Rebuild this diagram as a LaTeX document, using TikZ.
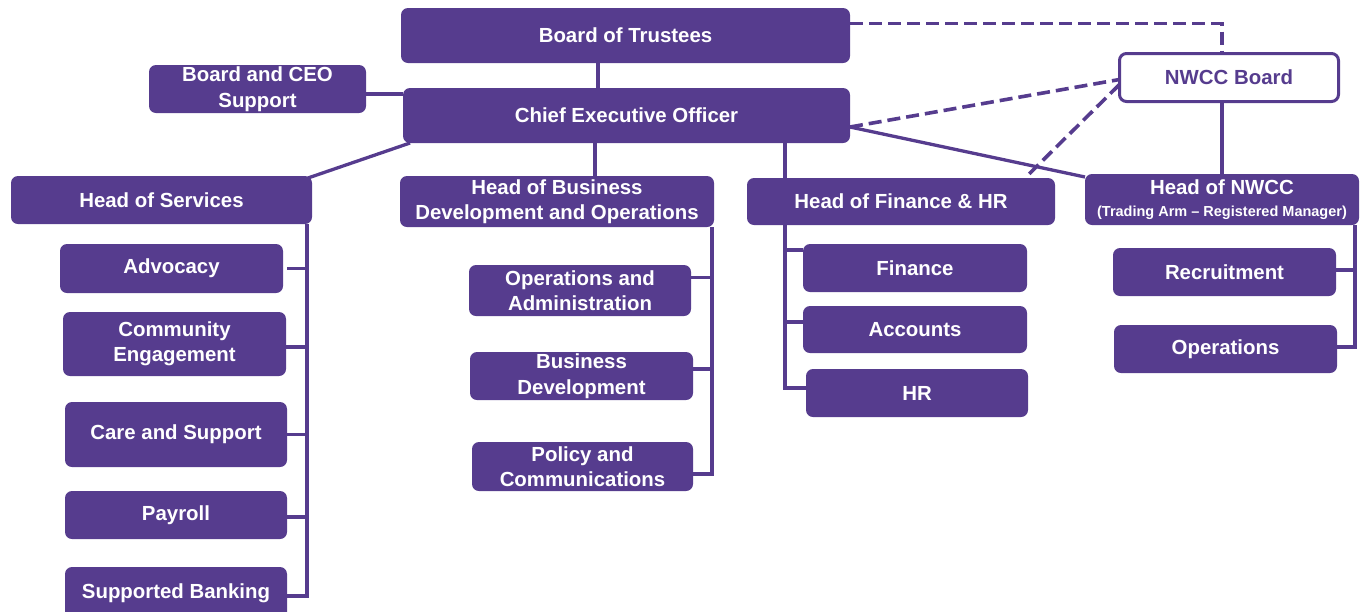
\documentclass[tikz,border=0pt]{standalone}
\usepackage{fontspec}
\setmainfont{Liberation Sans}
\pgfdeclarelayer{bg}
\pgfsetlayers{bg,main}
\definecolor{purp}{HTML}{563C8E}
\tikzset{
  box/.style={fill=purp, text=white, rounded corners=7pt, inner sep=0pt, outer sep=0pt,
    align=center, font=\bfseries\fontsize{20.4}{25.5}\selectfont},
  wbox/.style={box, fill=white, draw=purp, line width=3pt, text=purp},
  conn/.style={draw=purp, line width=3.3pt},
  dconn/.style={draw=purp, line width=3.6pt, dash pattern=on 13pt off 6pt},
}
\begin{document}
\begin{tikzpicture}[x=1pt,y=-1pt]
\useasboundingbox (0,0) rectangle (1360,611);
% top
\node[box, minimum width=449, minimum height=55] (bot) at (625.5,35.5) {Board of Trustees};
\node[box, minimum width=447, minimum height=55] (ceo) at (626.5,115.5) {Chief Executive Officer};
\node[box, minimum width=217, minimum height=48] (sup) at (257.5,89) {Board and CEO\\Support};
\node[wbox, minimum width=219, minimum height=48] (nwb) at (1229,77.5) {NWCC Board};
% heads
\node[box, minimum width=301, minimum height=48] (hos) at (161.5,200) {Head of Services};
\node[box, minimum width=314, minimum height=51] (hbd) at (557,201.5) {Head of Business\\Development and Operations};
\node[box, minimum width=308, minimum height=47] (hfin) at (901,201.5) {Head of Finance \& HR};
\node[box, minimum width=274, minimum height=51] (hnw) at (1222,199.5) {Head of NWCC\\[-4pt]{\fontsize{14.5}{16}\selectfont (Trading Arm -- Registered Manager)}};
% services
\node[box, minimum width=223, minimum height=49] (adv) at (171.5,268.5) {Advocacy};
\node[box, minimum width=223, minimum height=64] (com) at (174.5,344) {Community\\Engagement};
\node[box, minimum width=222, minimum height=65] (car) at (176,434.5) {Care and Support};
\node[box, minimum width=222, minimum height=48] (pay) at (176,515) {Payroll};
\node[box, minimum width=222, minimum height=52] (bank) at (176,593) {Supported Banking};
% business development
\node[box, minimum width=222, minimum height=51] (ops) at (580,290.5) {Operations and\\Administration};
\node[box, minimum width=223, minimum height=48] (bd) at (581.5,376) {Business\\Development};
\node[box, minimum width=221, minimum height=49] (pol) at (582.5,466.5) {Policy and\\Communications};
% finance
\node[box, minimum width=224, minimum height=48] (fin) at (915,268) {Finance};
\node[box, minimum width=224, minimum height=47] (acc) at (915,329.5) {Accounts};
\node[box, minimum width=222, minimum height=48] (hr) at (917,393) {HR};
% nwcc
\node[box, minimum width=223, minimum height=48] (rec) at (1224.5,272) {Recruitment};
\node[box, minimum width=223, minimum height=48] (opn) at (1225.5,349) {Operations};
% spine positions
\coordinate (xbot) at (598,0);
\coordinate (xbd) at (595,0);
\coordinate (xfin) at (785,0);
\coordinate (xs) at (307,0);
\coordinate (xb) at (712,0);
\coordinate (xn) at (1355,0);
\begin{pgfonlayer}{bg}
\draw[conn] (xbot |- bot.south) -- (xbot |- ceo.north);
\draw[conn] ([yshift=-5pt]sup.east) -- ([yshift=-5pt]sup.east -| ceo.west);
\draw[conn] ([xshift=7pt]ceo.south west) -- ([xshift=-4pt,yshift=-2pt]hos.north east);
\draw[conn] (xbd |- ceo.south) -- (xbd |- hbd.north);
\draw[conn] (xfin |- ceo.south) |- ([yshift=5pt]hr.west);
\draw[conn] ([yshift=-11.5pt]ceo.east) -- ([yshift=-3pt]hnw.north west);
\draw[conn] (hnw.north |- nwb.south) -- (hnw.north);
\draw[dconn] ([yshift=12pt]bot.east) -| (hnw.north |- nwb.north);
\draw[dconn] ([yshift=-11.5pt]ceo.east) -- ([yshift=-2pt]nwb.west);
\draw[dconn] ([yshift=-7pt]nwb.west) -- ([xshift=-30pt]hfin.north east);
% services tree
\draw[conn] (xs |- hos.south) |- ([yshift=-3pt]bank.east);
\draw[conn] ([xshift=4pt]adv.east) -- (adv.east -| xs);
\draw[conn] ([yshift=-3pt]com.east) -- ([yshift=-3pt]com.east -| xs);
\draw[conn] (car.east) -- (car.east -| xs);
\draw[conn] ([yshift=-2pt]pay.east) -- ([yshift=-2pt]pay.east -| xs);
% business development tree
\draw[conn] (xb |- hbd.south) |- ([yshift=-7.5pt]pol.east);
\draw[conn] ([yshift=13pt]ops.east) -- ([yshift=13pt]ops.east -| xb);
\draw[conn] ([yshift=7pt]bd.east) -- ([yshift=7pt]bd.east -| xb);
% finance tree
\draw[conn] ([yshift=18pt]fin.west) -- ([yshift=18pt]fin.west -| xfin);
\draw[conn] ([yshift=7.5pt]acc.west) -- ([yshift=7.5pt]acc.west -| xfin);
% nwcc tree
\draw[conn] (xn |- hnw.south) |- ([yshift=2pt]opn.east);
\draw[conn] ([yshift=2pt]rec.east) -- ([yshift=2pt]rec.east -| xn);
\end{pgfonlayer}
\end{tikzpicture}
\end{document}
